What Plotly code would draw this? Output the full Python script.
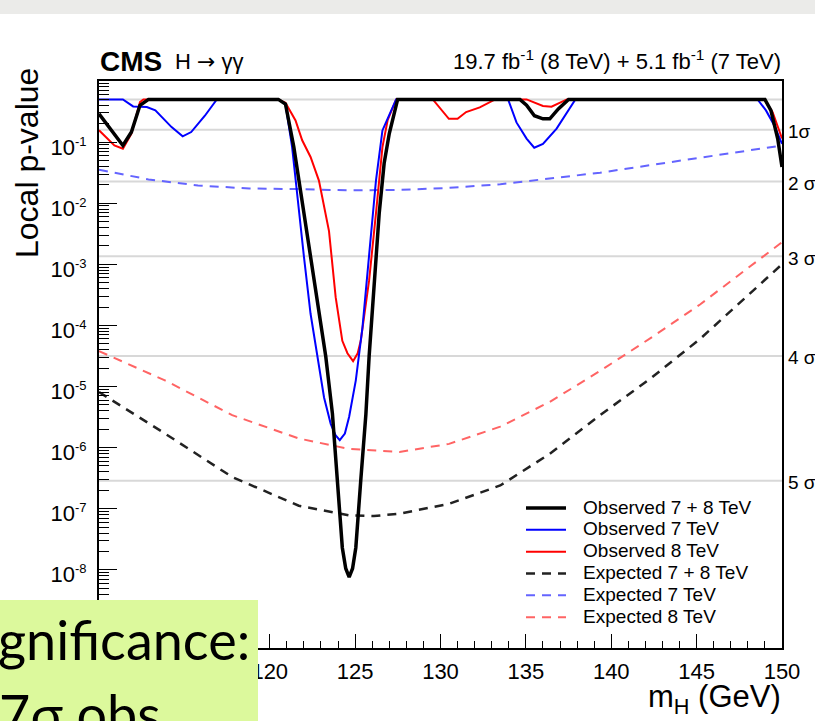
import math
import plotly.graph_objects as go

# ---------------- data ----------------
obs78_m = [110.0, 110.5, 111.0, 111.4, 111.9, 112.4, 112.9, 120.5, 120.92, 121.41, 121.71, 122.0,
           122.39, 122.88, 123.28, 123.67, 123.96, 124.25, 124.45, 124.65, 124.85, 125.04, 125.33,
           125.63, 125.82, 126.12, 126.41, 126.7, 127.0, 127.49, 134.65, 135.04, 135.5, 136.0,
           136.4, 136.9, 137.5, 149.0, 149.35, 149.75, 150.0]
obs78_p = [0.29, 0.19, 0.12, 0.088, 0.146, 0.40, 0.5, 0.5, 0.42, 0.083, 0.0236, 6.8e-3,
           1.35e-3, 1.55e-4, 3.1e-5, 3.6e-6, 2.9e-7, 2.3e-8, 1.05e-8, 7.6e-9, 1.05e-8, 2.3e-8, 2.9e-7,
           3.5e-6, 3.1e-5, 5.5e-4, 6.8e-3, 0.045, 0.138, 0.5, 0.5, 0.40, 0.27, 0.24,
           0.24, 0.35, 0.5, 0.5, 0.33, 0.113, 0.039]

obs7_m = [110.0, 111.4, 112.0, 112.8, 113.3, 114.25, 114.9, 115.4, 116.2, 116.9, 120.5, 120.92,
          121.31, 121.71, 122.0, 122.39, 122.78, 123.18, 123.57, 123.85, 124.1, 124.4, 124.65,
          125.04, 125.43, 125.82, 126.22, 126.6, 127.4, 133.96, 134.45, 135.04, 135.49, 136.0,
          136.8, 137.9, 148.57, 149.06, 149.55, 150.0]
obs7_p = [0.5, 0.5, 0.384, 0.374, 0.33, 0.176, 0.124, 0.146, 0.27, 0.5, 0.5, 0.42,
          0.083, 6.8e-3, 1.35e-3, 1.55e-4, 3.1e-5, 6.6e-6, 2.45e-6, 1.6e-6, 1.32e-6, 1.7e-6, 3.2e-6,
          1.26e-5, 9.3e-5, 1.35e-3, 0.0234, 0.155, 0.5, 0.5, 0.21, 0.114, 0.081, 0.093,
          0.166, 0.5, 0.5, 0.33, 0.187, 0.094]

obs8_m = [110.0, 110.9, 111.4, 111.9, 112.4, 112.6, 120.5, 120.92, 121.51, 121.9, 122.39, 122.88,
          123.47, 123.86, 124.25, 124.55, 124.88, 125.15, 125.33, 125.82, 126.22, 126.6, 126.9,
          127.4, 129.55, 130.49, 131.0, 131.5, 132.3, 132.78, 133.2, 135.04, 136.0, 136.5,
          137.4, 148.96, 149.45, 150.0]
obs8_p = [0.156, 0.088, 0.078, 0.138, 0.45, 0.5, 0.5, 0.44, 0.226, 0.107, 0.057, 0.0234,
          3.5e-3, 2.9e-4, 5.6e-5, 3.5e-5, 2.6e-5, 3.5e-5, 5.6e-5, 5.5e-4, 6.8e-3, 0.083, 0.226,
          0.5, 0.5, 0.24, 0.24, 0.31, 0.37, 0.44, 0.5, 0.5, 0.39, 0.38,
          0.5, 0.5, 0.31, 0.115]

exp78_m = [110.0, 113.86, 117.8, 121.7, 124.65, 126.1, 127.6, 130.5, 133.5, 136.4, 139.35, 142.3, 145.2, 150.0]
exp78_p = [8.1e-6, 1.7e-6, 3.3e-7, 1.12e-7, 7.8e-8, 7.6e-8, 8.3e-8, 1.2e-7, 2.4e-7, 7.9e-7, 3.4e-6, 1.35e-5, 6.0e-5, 1.0e-3]

exp7_m = [110.0, 112.9, 115.8, 118.8, 121.7, 124.65, 127.6, 130.5, 133.5, 136.4, 139.35, 142.3, 145.2, 150.0]
exp7_p = [0.0353, 0.0245, 0.0195, 0.0174, 0.0170, 0.0162, 0.0165, 0.0178, 0.0204, 0.0251, 0.0316, 0.042, 0.0556, 0.088]

exp8_m = [110.0, 113.86, 117.8, 121.7, 124.65, 127.6, 130.5, 133.5, 136.4, 139.35, 142.3, 145.2, 150.0]
exp8_p = [3.8e-5, 1.26e-5, 3.4e-6, 1.41e-6, 9.5e-7, 8.5e-7, 1.15e-6, 2.2e-6, 5.6e-6, 1.8e-5, 6.2e-5, 2.2e-4, 2.3e-3]

sigma_p = [0.5, 0.1587, 0.02275, 0.00135, 3.167e-5, 2.867e-7]
sigma_labels = ["", "1σ", "2 σ", "3 σ", "4 σ", "5 σ"]
mass_range = [110, 150]

ytick_vals = [1e-1, 1e-2, 1e-3, 1e-4, 1e-5, 1e-6, 1e-7, 1e-8, 1e-9]
ytick_exps = ["-1", "-2", "-3", "-4", "-5", "-6", "-7", "-8", ""]

FONT = "Liberation Sans, Arial, Helvetica, sans-serif"
GAP = "&nbsp;&nbsp;&nbsp;"


def leg(name):
    return GAP + '<span style="font-size:19px">' + name + "</span>"


ytick_text = [("10<sup><span style=\"font-size:13px\">" + e + "</span></sup>") if e else "" for e in ytick_exps]

fig = go.Figure()

# sigma reference lines
for p in sigma_p:
    fig.add_trace(go.Scatter(x=mass_range, y=[p, p], mode="lines",
                             line=dict(color="#d8d8d8", width=2), showlegend=False, hoverinfo="skip"))

fig.add_trace(go.Scatter(x=exp7_m, y=exp7_p, mode="lines", name=leg("Expected 7 TeV"), legendrank=5,
                         line=dict(color="#6464ff", width=2, dash="9px,7px")))
fig.add_trace(go.Scatter(x=exp8_m, y=exp8_p, mode="lines", name=leg("Expected 8 TeV"), legendrank=6,
                         line=dict(color="#ff6464", width=2, dash="9px,7px")))
fig.add_trace(go.Scatter(x=exp78_m, y=exp78_p, mode="lines", name=leg("Expected 7 + 8 TeV"), legendrank=4,
                         line=dict(color="#222222", width=2.5, dash="9px,7px")))
fig.add_trace(go.Scatter(x=obs8_m, y=obs8_p, mode="lines", name=leg("Observed 8 TeV"), legendrank=3,
                         line=dict(color="#ff0000", width=2)))
fig.add_trace(go.Scatter(x=obs7_m, y=obs7_p, mode="lines", name=leg("Observed 7 TeV"), legendrank=2,
                         line=dict(color="#0000ff", width=2)))
fig.add_trace(go.Scatter(x=obs78_m, y=obs78_p, mode="lines", name=leg("Observed 7 + 8 TeV"), legendrank=1,
                         line=dict(color="#000000", width=3.5)))

W, H = 815, 721
L, R, T, B = 99, 33, 81, 73
pw, ph = W - L - R, H - T - B


def px(xp):
    return (xp - L) / pw


def py(yp):
    return (H - B - yp) / ph


fig.update_layout(
    width=W, height=H,
    margin=dict(l=L, r=R, t=T, b=B),
    paper_bgcolor="white", plot_bgcolor="white",
    font=dict(family=FONT, color="black"),
    showlegend=True,
    legend=dict(x=px(521), y=py(492), xanchor="left", yanchor="top",
                bgcolor="rgba(0,0,0,0)", font=dict(size=14.5, family=FONT),
                itemwidth=40, tracegroupgap=0),
    xaxis=dict(range=mass_range, showgrid=False, zeroline=False,
               showline=True, linecolor="black", linewidth=2, mirror=True,
               ticks="inside", ticklen=14, tickwidth=1, tickcolor="black",
               tick0=110, dtick=5, tickfont=dict(size=22, family=FONT),
               ticklabelstandoff=3,
               minor=dict(ticks="inside", ticklen=7, tickwidth=1, tickcolor="black", dtick=1, showgrid=False)),
    yaxis=dict(type="log", range=[-9.28, 0], showgrid=False, zeroline=False,
               showline=True, linecolor="black", linewidth=2, mirror=True,
               ticks="inside", ticklen=18, tickwidth=1, tickcolor="black",
               tickmode="array", tickvals=ytick_vals, ticktext=ytick_text,
               tickfont=dict(size=22, family=FONT), ticklabelstandoff=6, ticklabelshift=5,
               minor=dict(ticks="inside", ticklen=10, tickwidth=1, tickcolor="black", dtick="D1", showgrid=False)),
)

ann = []
ann.append(dict(xref="paper", yref="paper", x=px(98), y=py(61), xanchor="left", yanchor="middle",
                text="<b>CMS</b>", showarrow=False, font=dict(size=28, family=FONT)))
ann.append(dict(xref="paper", yref="paper", x=px(173), y=py(62), xanchor="left", yanchor="middle",
                text='H <span style="font-family:DejaVu Sans">→</span> γγ', showarrow=False,
                font=dict(size=22, family=FONT)))
ann.append(dict(xref="paper", yref="paper", x=px(783), y=py(60), xanchor="right", yanchor="middle",
                text="19.7 fb<sup>-1</sup> (8 TeV) + 5.1 fb<sup>-1</sup> (7 TeV)", showarrow=False,
                font=dict(size=22, family=FONT)))
ann.append(dict(xref="paper", yref="paper", x=px(27), y=py(66), xanchor="center", yanchor="top",
                textangle=-90, text="Local p-value", showarrow=False, font=dict(size=32, family=FONT)))
ann.append(dict(xref="paper", yref="paper", x=px(783), y=py(699), xanchor="right", yanchor="middle",
                text="m<sub>H</sub> (GeV)", showarrow=False, font=dict(size=31, family=FONT)))
for p, lab in zip(sigma_p, sigma_labels):
    if lab:
        ann.append(dict(xref="paper", yref="y", x=px(786), y=math.log10(p), xanchor="left", yanchor="middle",
                        yshift=-2, text=lab, showarrow=False, font=dict(size=19, family=FONT)))

# slide overlay text (partially cut off by the screenshot edge)
ann.append(dict(xref="paper", yref="paper", x=px(252), y=py(639), xanchor="right", yanchor="middle",
                text="Significance:", showarrow=False, font=dict(size=54, family="Lato, sans-serif")))
ann.append(dict(xref="paper", yref="paper", x=px(-47), y=py(713), xanchor="left", yanchor="middle",
                text="5.7σ obs.,", showarrow=False, font=dict(size=54, family="Lato, sans-serif")))
fig.update_layout(annotations=ann)

fig.update_layout(shapes=[
    dict(type="rect", xref="paper", yref="paper", x0=px(-20), x1=px(258), y0=py(740), y1=py(600),
         fillcolor="#dcf99c", line=dict(width=0), layer="above"),
    dict(type="rect", xref="paper", yref="paper", x0=px(-5), x1=px(820), y0=py(14), y1=py(-5),
         fillcolor="#ebebe9", line=dict(width=0), layer="above"),
])

fig.write_html("out.html")
